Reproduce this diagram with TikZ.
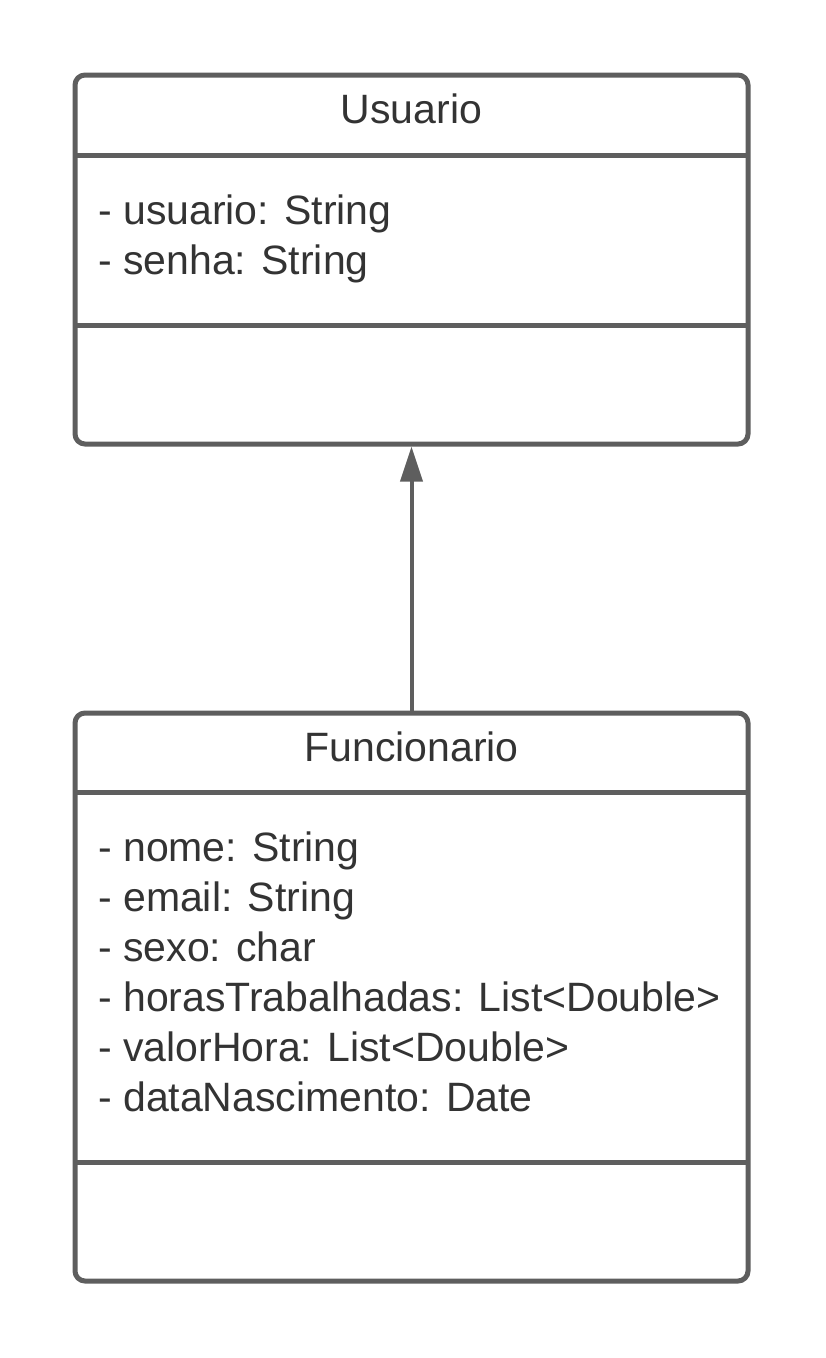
\documentclass[tikz,border=0pt]{standalone}
\usepackage{fontspec}
\setmainfont{Liberation Sans}
\usetikzlibrary{positioning,arrows.meta,calc}
\definecolor{umlgray}{HTML}{5E5E5E}
\definecolor{umltext}{HTML}{333333}
\tikzstyle{classbox}=[draw=umlgray,line width=5pt,rounded corners=10pt,inner sep=0pt,minimum width=673pt]
\tikzstyle{divider}=[draw=umlgray,line width=5pt]
\tikzstyle{classname}=[text=umltext,font=\fontsize{41}{50}\selectfont,anchor=base,inner sep=0pt]
\tikzstyle{attrs}=[text=umltext,font=\fontsize{41}{50}\selectfont,anchor=base west,align=left,inner sep=0pt]
\tikzstyle{inherit}=[draw=umlgray,line width=4pt,-{Triangle[width=22pt,length=35pt]}]

\begin{document}
\begin{tikzpicture}[x=1pt,y=-1pt]
  \path[fill=white] (0,0) rectangle (825,1358);

  % class boxes
  \node[classbox,minimum height=369pt] (usuario) at (411.5,259.5) {};
  \node[classbox,minimum height=568pt] (funcionario) at (411.5,997) {};

  % compartment lines
  \foreach \y in {155,325,792,1162}
    \draw[divider] (75,\y) -- (748,\y);

  % names and attributes (base = last line)
  \node[classname] (usuarioname) at (411.5,123) {Usuario};
  \node[attrs] (usuarioattrs) at (98,274) {- usuario: String\\- senha: String};
  \node[classname] (funcionarioname) at (411.5,761) {Funcionario};
  \node[attrs] (funcionarioattrs) at (98,1111) {- nome: String\\- email: String\\- sexo: char\\- horasTrabalhadas: List<Double>\\- valorHora: List<Double>\\- dataNascimento: Date};

  % generalization
  \draw[inherit] (funcionario) -- (usuario);
\end{tikzpicture}
\end{document}
